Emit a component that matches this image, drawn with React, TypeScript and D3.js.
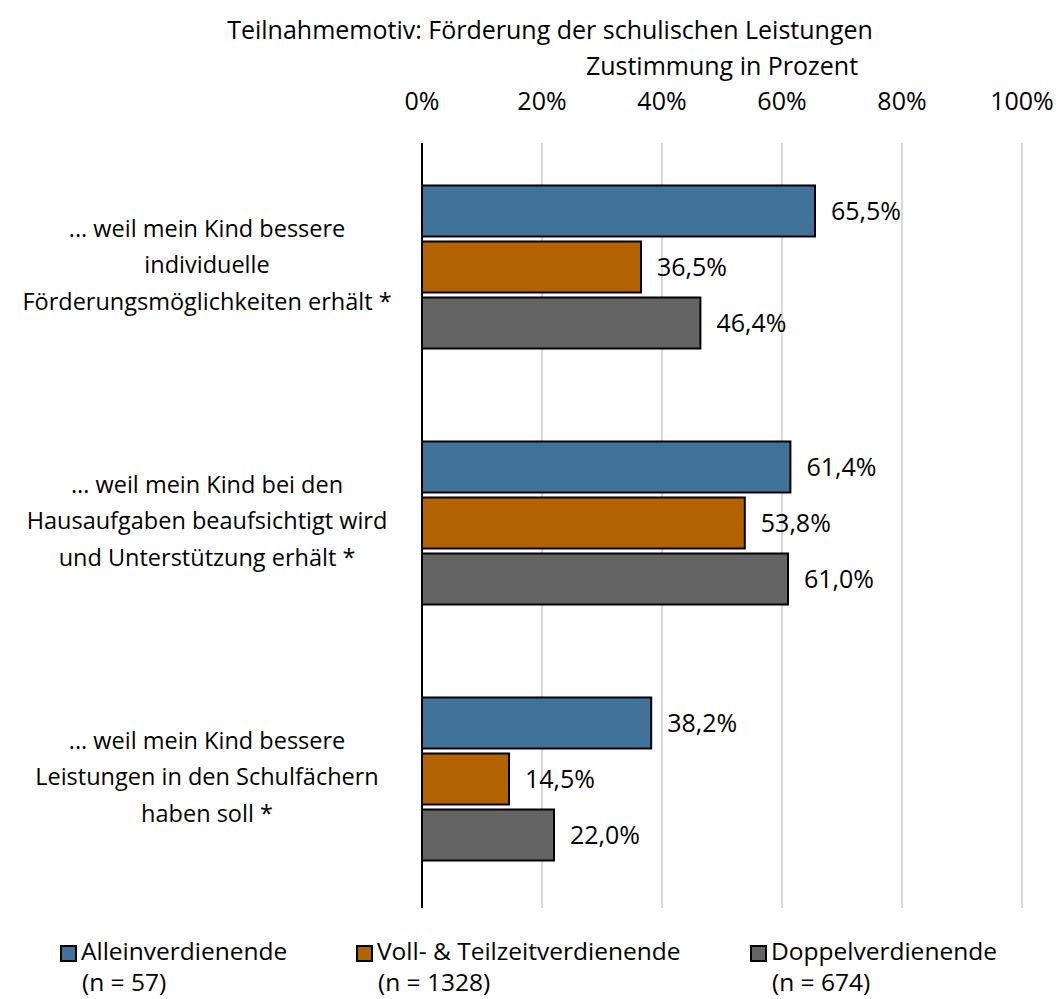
import React, { useEffect, useRef } from "react";
import * as d3 from "d3";

const categories = ["cat1", "cat2", "cat3"];
const categoryLines = [
  ["... weil mein Kind bessere", "individuelle", "Förderungsmöglichkeiten erhält *"],
  ["... weil mein Kind bei den", "Hausaufgaben beaufsichtigt wird", "und Unterstützung erhält *"],
  ["... weil mein Kind bessere", "Leistungen in den Schulfächern", "haben soll *"],
];
const seriesNames = ["Alleinverdienende", "Voll- & Teilzeitverdienende", "Doppelverdienende"];
const seriesN = ["(n = 57)", "(n = 1328)", "(n = 674)"];
const seriesColors = ["#41729a", "#b36200", "#646464"];
const alleinValues = [65.5, 61.4, 38.2];
const teilzeitValues = [36.5, 53.8, 14.5];
const doppelValues = [46.4, 61.0, 22.0];
const xTicks = [0, 20, 40, 60, 80, 100];

const FONT = "'Open Sans', 'Noto Sans', sans-serif";
const FS = 25; // numbers, title
const FS_LEG = 24.5; // legend
const FS_CAT = 23.5; // category labels

const App = () => {
  const svgRef = useRef<SVGSVGElement | null>(null);

  useEffect(() => {
    const width = 1056;
    const height = 999;
    const margin = { top: 139, right: 34, bottom: 92, left: 422 };
    const values = [alleinValues, teilzeitValues, doppelValues];

    const svg = d3
      .select(svgRef.current)
      .attr("width", width)
      .attr("height", height)
      .style("font-family", FONT);
    svg.selectAll("*").remove();

    const x = d3
      .scaleLinear()
      .domain([0, 100])
      .range([margin.left, width - margin.right]);

    const y0 = d3
      .scaleBand()
      .domain(categories)
      .range([margin.top, height - margin.bottom]);

    const y1 = d3
      .scaleBand()
      .domain(seriesNames)
      .range([0, y0.bandwidth()])
      .paddingInner(5 / 56)
      .paddingOuter(0.83);

    const plotTop = 143;
    const plotBottom = 908;

    // gridlines
    svg
      .append("g")
      .selectAll("line")
      .data(xTicks.filter((t) => t > 0))
      .enter()
      .append("line")
      .attr("x1", (d) => x(d))
      .attr("x2", (d) => x(d))
      .attr("y1", plotTop)
      .attr("y2", plotBottom)
      .attr("stroke", "#d9d9d9")
      .attr("stroke-width", 2);

    // tick labels on top
    svg
      .append("g")
      .selectAll("text")
      .data(xTicks)
      .enter()
      .append("text")
      .attr("x", (d) => x(d))
      .attr("y", 110)
      .attr("text-anchor", "middle")
      .attr("font-size", FS)
      .attr("fill", "#000")
      .text((d) => `${d}%`);

    // bars
    const groups = svg
      .append("g")
      .selectAll("g")
      .data(categories)
      .enter()
      .append("g")
      .attr("transform", (d) => `translate(0,${y0(d)})`);

    groups
      .selectAll("rect")
      .data((c, ci) => seriesNames.map((s, si) => ({ s, si, v: values[si][ci] })))
      .enter()
      .append("rect")
      .attr("x", x(0))
      .attr("y", (d) => y1(d.s)!)
      .attr("width", (d) => x(d.v) - x(0))
      .attr("height", y1.bandwidth())
      .attr("fill", (d) => seriesColors[d.si])
      .attr("stroke", "#000")
      .attr("stroke-width", 2);

    groups
      .selectAll("text.val")
      .data((c, ci) => seriesNames.map((s, si) => ({ s, si, v: values[si][ci] })))
      .enter()
      .append("text")
      .attr("class", "val")
      .attr("x", (d) => x(d.v) + 16)
      .attr("y", (d) => y1(d.s)! + y1.bandwidth() / 2)
      .attr("dy", "0.36em")
      .attr("font-size", FS)
      .attr("fill", "#000")
      .text((d) => `${d.v.toFixed(1).replace(".", ",")}%`);

    // axis line
    svg
      .append("line")
      .attr("x1", x(0))
      .attr("x2", x(0))
      .attr("y1", plotTop)
      .attr("y2", plotBottom)
      .attr("stroke", "#000")
      .attr("stroke-width", 2);

    // category labels
    const lineH = 36.5;
    categories.forEach((c, ci) => {
      const cy = y0(c)! + y0.bandwidth() / 2 - 2;
      const lines = categoryLines[ci];
      const t = svg
        .append("text")
        .attr("text-anchor", "middle")
        .attr("font-size", FS_CAT)
        .attr("fill", "#000");
      lines.forEach((l, li) => {
        t.append("tspan")
          .attr("x", 207)
          .attr("y", cy + (li - (lines.length - 1) / 2) * lineH)
          .attr("dy", "0.35em")
          .text(l);
      });
    });

    // titles
    svg
      .append("text")
      .attr("x", 550)
      .attr("y", 39)
      .attr("text-anchor", "middle")
      .attr("font-size", FS)
      .attr("fill", "#000")
      .text("Teilnahmemotiv: Förderung der schulischen Leistungen");
    svg
      .append("text")
      .attr("x", (x(0) + x(100)) / 2)
      .attr("y", 75)
      .attr("text-anchor", "middle")
      .attr("font-size", FS)
      .attr("fill", "#000")
      .text("Zustimmung in Prozent");

    // legend
    const legendX = [61, 357, 751];
    const legend = svg
      .append("g")
      .selectAll("g")
      .data(seriesNames)
      .enter()
      .append("g")
      .attr("transform", (d, i) => `translate(${legendX[i]},0)`);
    legend
      .append("rect")
      .attr("x", 0)
      .attr("y", 946)
      .attr("width", 15)
      .attr("height", 15)
      .attr("fill", (d, i) => seriesColors[i])
      .attr("stroke", "#000")
      .attr("stroke-width", 2);
    legend
      .append("text")
      .attr("x", 20)
      .attr("y", 960)
      .attr("font-size", FS_LEG)
      .attr("fill", "#000")
      .text((d) => d);
    legend
      .append("text")
      .attr("x", 21)
      .attr("y", 991)
      .attr("font-size", FS_LEG)
      .attr("fill", "#000")
      .text((d, i) => seriesN[i]);
  }, []);

  return (
    <div>
      <svg
        ref={svgRef}
        style={{ display: "block", position: "fixed", top: 0, left: 0, background: "#fff" }}
      ></svg>
    </div>
  );
};

export default App;
